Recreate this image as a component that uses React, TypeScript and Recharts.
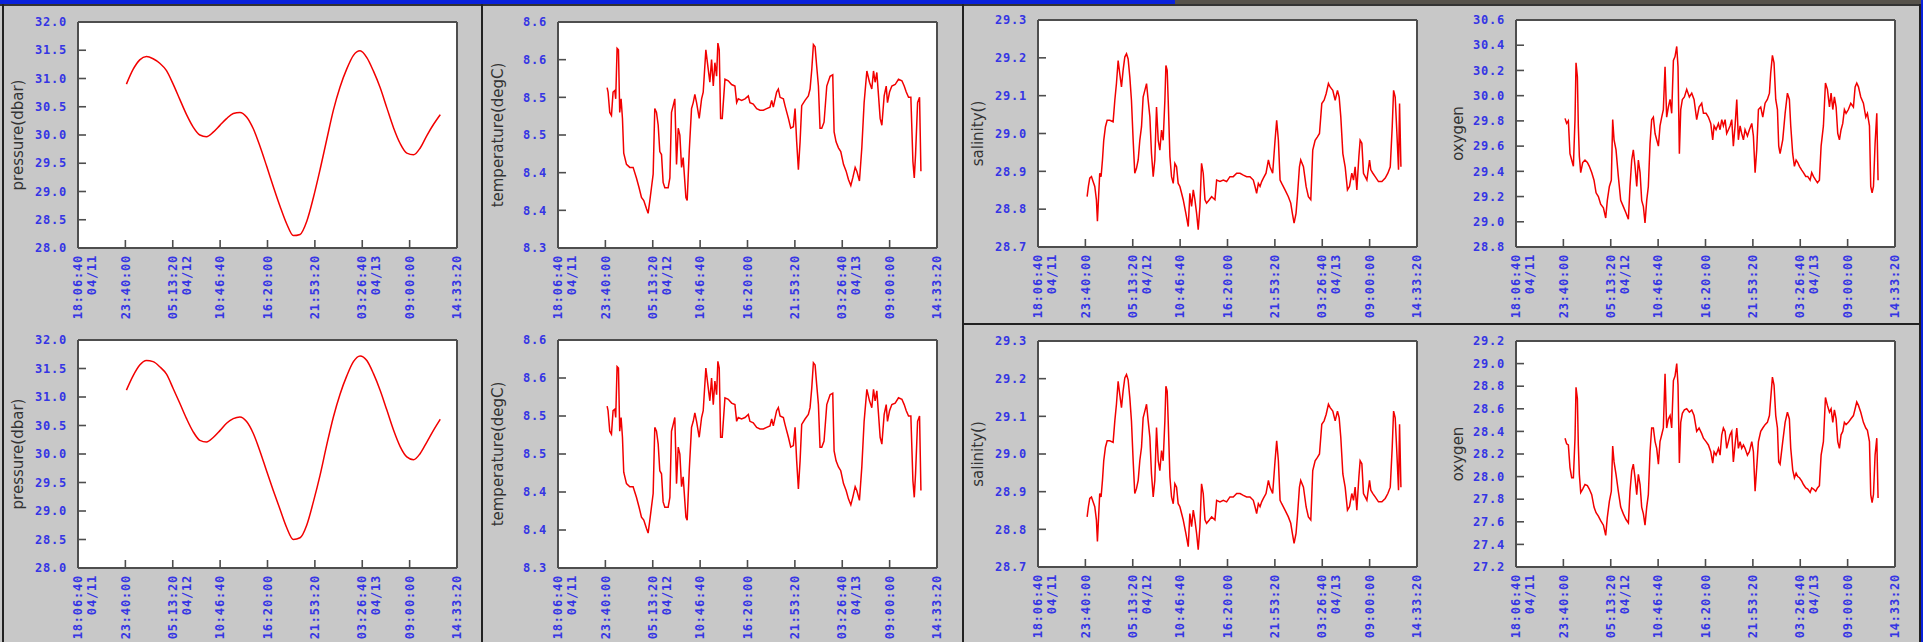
import { LineChart, Line, XAxis, YAxis, CartesianGrid, ReferenceLine } from "recharts";

// time axis: seconds since 04/11 00:00, one tick every 20000 s
const TICK_SECONDS = [65200, 85200, 105200, 125200, 145200, 165200, 185200, 205200, 225200];
const TICK_TIMES = ["18:06:40", "23:40:00", "05:13:20", "10:46:40", "16:20:00", "21:53:20", "03:26:40", "09:00:00", "14:33:20"];
const TICK_DATES = ["04/11", "", "04/12", "", "", "", "04/13", "", ""];
const TICK_HOURS = TICK_SECONDS.map((s) => s / 3600);

const PRES_TICKS = [28, 28.5, 29, 29.5, 30, 30.5, 31, 31.5, 32];
const PRES_LABELS = ["28.0", "28.5", "29.0", "29.5", "30.0", "30.5", "31.0", "31.5", "32.0"];
const TEMP_TICKS = [8.3, 8.35, 8.4, 8.45, 8.5, 8.55, 8.6];
const TEMP_LABELS = ["8.3", "8.4", "8.4", "8.5", "8.5", "8.6", "8.6"];
const SAL_TICKS = [28.7, 28.8, 28.9, 29.0, 29.1, 29.2, 29.3];
const SAL_LABELS = ["28.7", "28.8", "28.9", "29.0", "29.1", "29.2", "29.3"];
const OXY_A_TICKS = [28.8, 29.0, 29.2, 29.4, 29.6, 29.8, 30.0, 30.2, 30.4, 30.6];
const OXY_A_LABELS = ["28.8", "29.0", "29.2", "29.4", "29.6", "29.8", "30.0", "30.2", "30.4", "30.6"];
const OXY_B_TICKS = [27.2, 27.4, 27.6, 27.8, 28.0, 28.2, 28.4, 28.6, 28.8, 29.0, 29.2];
const OXY_B_LABELS = ["27.2", "27.4", "27.6", "27.8", "28.0", "28.2", "28.4", "28.6", "28.8", "29.0", "29.2"];

// pressure, hours since 04/11 00:00
const PRES_HOURS = [
  23.79, 24.57, 25.35, 26.14, 26.92, 27.7, 28.49, 29.27, 30.05, 30.84,
  31.62, 32.4, 33.18, 33.97, 34.75, 35.53, 36.32, 37.1, 37.88, 38.67,
  39.45, 40.23, 41.01, 41.8, 42.58, 43.36, 44.15, 44.93, 45.71, 46.5,
  47.28, 48.06, 48.84, 49.63, 50.41, 51.19, 51.98, 52.76, 53.54, 54.33,
  55.11, 55.89, 56.67, 57.46, 58.24, 59.02, 59.81, 60.59,
];
const PRES_A = [
  30.9, 31.16, 31.33, 31.39, 31.35, 31.27, 31.14, 30.9, 30.63, 30.36,
  30.14, 30.0, 29.97, 30.05, 30.17, 30.29, 30.38, 30.4, 30.32, 30.11,
  29.8, 29.45, 29.09, 28.74, 28.43, 28.22, 28.24, 28.47, 28.89, 29.39,
  29.92, 30.44, 30.85, 31.17, 31.41, 31.49, 31.37, 31.13, 30.84, 30.48,
  30.13, 29.85, 29.68, 29.65, 29.77, 29.99, 30.19, 30.36,
];
const PRES_B = [
  31.12, 31.37, 31.56, 31.64, 31.62, 31.53, 31.4, 31.15, 30.89, 30.62,
  30.39, 30.24, 30.21, 30.29, 30.41, 30.54, 30.62, 30.65, 30.57, 30.36,
  30.05, 29.7, 29.36, 29.03, 28.71, 28.5, 28.53, 28.75, 29.16, 29.63,
  30.16, 30.65, 31.05, 31.37, 31.62, 31.72, 31.64, 31.41, 31.12, 30.77,
  30.42, 30.13, 29.95, 29.9, 30.01, 30.21, 30.42, 30.61,
];

// temperature [hours, degC]
const TEMP: [number, number][] = [
  [23.87, 8.513], [23.98, 8.507], [24.18, 8.48], [24.38, 8.476], [24.57, 8.507], [24.77, 8.509], [24.88, 8.498],
  [25.04, 8.565], [25.2, 8.563], [25.35, 8.48], [25.51, 8.498], [25.67, 8.472], [25.82, 8.426], [26.14, 8.411],
  [26.53, 8.407], [26.92, 8.407], [27.31, 8.393], [27.62, 8.38], [27.9, 8.367], [28.17, 8.363], [28.49, 8.352],
  [28.68, 8.346], [28.88, 8.363], [29.07, 8.38], [29.27, 8.398], [29.46, 8.485], [29.66, 8.48], [29.86, 8.463],
  [30.05, 8.428], [30.25, 8.424], [30.44, 8.387], [30.64, 8.38], [31.03, 8.38], [31.23, 8.393], [31.42, 8.48],
  [31.62, 8.489], [31.81, 8.498], [32.01, 8.411], [32.21, 8.459], [32.4, 8.45], [32.6, 8.407], [32.79, 8.42],
  [33.11, 8.367], [33.26, 8.363], [33.5, 8.428], [33.77, 8.485], [33.97, 8.493], [34.16, 8.504], [34.36, 8.493],
  [34.67, 8.472], [34.95, 8.498], [35.14, 8.507], [35.45, 8.563], [35.73, 8.537], [35.92, 8.52], [36.12, 8.55],
  [36.32, 8.515], [36.51, 8.546], [36.71, 8.528], [36.86, 8.572], [37.02, 8.563], [37.18, 8.472], [37.37, 8.472],
  [37.69, 8.524], [38.08, 8.522], [38.47, 8.517], [38.86, 8.515], [39.06, 8.493], [39.25, 8.498], [39.64, 8.496],
  [40.04, 8.498], [40.43, 8.502], [40.62, 8.493], [41.01, 8.491], [41.41, 8.485], [41.8, 8.483], [42.19, 8.483],
  [42.58, 8.485], [42.97, 8.487], [43.17, 8.496], [43.36, 8.487], [43.75, 8.507], [43.95, 8.511], [44.15, 8.5],
  [44.54, 8.498], [44.73, 8.489], [45.13, 8.472], [45.4, 8.459], [45.71, 8.461], [45.91, 8.485], [46.1, 8.441],
  [46.3, 8.404], [46.5, 8.441], [46.69, 8.489], [47.08, 8.496], [47.47, 8.502], [47.67, 8.511], [47.87, 8.537],
  [48.06, 8.57], [48.26, 8.567], [48.45, 8.541], [48.65, 8.515], [48.84, 8.459], [49.04, 8.459], [49.31, 8.467],
  [49.63, 8.515], [50.02, 8.528], [50.33, 8.53], [50.49, 8.454], [50.72, 8.441], [51.0, 8.433], [51.27, 8.428],
  [51.59, 8.411], [51.9, 8.402], [52.17, 8.391], [52.45, 8.383], [52.68, 8.393], [52.96, 8.407], [53.15, 8.402],
  [53.46, 8.389], [53.74, 8.433], [54.01, 8.493], [54.33, 8.535], [54.64, 8.52], [54.91, 8.511], [55.11, 8.535],
  [55.3, 8.52], [55.5, 8.533], [55.7, 8.502], [55.89, 8.472], [56.09, 8.463], [56.36, 8.502], [56.6, 8.515],
  [56.75, 8.493], [56.99, 8.507], [57.26, 8.515], [57.65, 8.517], [58.04, 8.524], [58.44, 8.522], [58.71, 8.515],
  [58.95, 8.507], [59.22, 8.5], [59.49, 8.5], [59.73, 8.415], [59.89, 8.393], [60.04, 8.424], [60.28, 8.493],
  [60.51, 8.5], [60.67, 8.402],
];

// salinity [hours, psu]
const SAL: [number, number][] = [
  [23.87, 28.833], [24.02, 28.86], [24.18, 28.882], [24.38, 28.886], [24.57, 28.873], [24.77, 28.86], [24.96, 28.825],
  [25.08, 28.768], [25.2, 28.825], [25.35, 28.895], [25.51, 28.886], [25.67, 28.93], [25.82, 28.982], [26.02, 29.018],
  [26.22, 29.035], [26.53, 29.035], [26.92, 29.031], [27.12, 29.088], [27.31, 29.132], [27.51, 29.193], [27.7, 29.158],
  [27.9, 29.123], [28.09, 29.167], [28.29, 29.202], [28.49, 29.211], [28.68, 29.197], [28.88, 29.149], [29.07, 29.088],
  [29.27, 28.982], [29.46, 28.895], [29.66, 28.908], [29.86, 28.93], [30.05, 28.982], [30.25, 29.018], [30.44, 29.096],
  [30.64, 29.114], [30.84, 29.132], [31.03, 29.088], [31.23, 29.044], [31.42, 28.947], [31.62, 28.886], [31.81, 28.93],
  [32.01, 29.07], [32.21, 28.982], [32.4, 28.956], [32.6, 29.009], [32.79, 28.982], [32.99, 29.088], [33.11, 29.18],
  [33.26, 29.167], [33.38, 29.088], [33.58, 28.939], [33.77, 28.886], [33.97, 28.868], [34.16, 28.921], [34.36, 28.912],
  [34.55, 28.868], [34.75, 28.86], [34.95, 28.842], [35.14, 28.825], [35.45, 28.789], [35.73, 28.754], [35.92, 28.842],
  [36.12, 28.807], [36.32, 28.851], [36.51, 28.825], [36.71, 28.789], [36.9, 28.746], [37.1, 28.807], [37.29, 28.921],
  [37.49, 28.895], [37.69, 28.825], [37.88, 28.816], [38.2, 28.825], [38.47, 28.833], [38.86, 28.825], [39.06, 28.877],
  [39.45, 28.873], [39.84, 28.877], [40.23, 28.873], [40.62, 28.886], [41.01, 28.886], [41.41, 28.895], [41.8, 28.895],
  [42.19, 28.89], [42.58, 28.886], [42.97, 28.886], [43.36, 28.877], [43.56, 28.86], [43.75, 28.842], [43.95, 28.868],
  [44.15, 28.86], [44.34, 28.873], [44.54, 28.882], [44.85, 28.895], [45.13, 28.93], [45.32, 28.912], [45.63, 28.895],
  [45.91, 28.982], [46.1, 29.035], [46.3, 28.982], [46.5, 28.877], [46.69, 28.868], [47.08, 28.851], [47.47, 28.833],
  [47.75, 28.816], [47.94, 28.789], [48.14, 28.763], [48.37, 28.789], [48.53, 28.833], [48.77, 28.912], [48.92, 28.93],
  [49.24, 28.912], [49.55, 28.86], [49.82, 28.833], [50.1, 28.825], [50.33, 28.956], [50.61, 28.982], [50.88, 28.991],
  [51.12, 29.0], [51.39, 29.079], [51.66, 29.088], [51.9, 29.105], [52.17, 29.132], [52.37, 29.123], [52.68, 29.114],
  [52.96, 29.088], [53.23, 29.114], [53.43, 29.096], [53.62, 29.044], [53.86, 28.947], [54.13, 28.912], [54.4, 28.851],
  [54.64, 28.86], [54.91, 28.895], [55.11, 28.877], [55.3, 28.912], [55.5, 28.851], [55.74, 28.939], [55.89, 28.982],
  [56.09, 28.974], [56.28, 28.895], [56.48, 28.886], [56.68, 28.877], [56.99, 28.93], [57.14, 28.904], [57.38, 28.895],
  [57.65, 28.886], [58.04, 28.873], [58.44, 28.873], [58.83, 28.882], [59.14, 28.895], [59.42, 28.912], [59.65, 29.018],
  [59.81, 29.114], [60.0, 29.096], [60.2, 29.0], [60.39, 28.904], [60.51, 29.079], [60.67, 28.912],
];

// oxygen, two sensors on the same time base
const OXY_HOURS = [
  23.86, 24.05, 24.25, 24.44, 24.64, 24.84, 25.03, 25.15, 25.31, 25.42,
  25.54, 25.7, 25.93, 26.2, 26.48, 26.71, 26.99, 27.26, 27.5, 27.77,
  28.04, 28.36, 28.63, 28.82, 29.06, 29.29, 29.45, 29.61, 29.84, 30.11,
  30.39, 30.7, 31.01, 31.29, 31.48, 31.68, 31.87, 32.07, 32.27, 32.46,
  32.66, 32.85, 33.05, 33.24, 33.44, 33.63, 33.83, 34.02, 34.22, 34.42,
  34.61, 34.81, 35.0, 35.2, 35.39, 35.59, 35.78, 35.98, 36.18, 36.37,
  36.57, 36.76, 36.96, 37.11, 37.27, 37.43, 37.62, 37.86, 38.13, 38.44,
  38.72, 38.99, 39.3, 39.58, 39.89, 40.09, 40.4, 40.67, 40.95, 41.18,
  41.34, 41.57, 41.85, 42.04, 42.24, 42.43, 42.63, 42.82, 43.02, 43.21,
  43.41, 43.6, 43.8, 44.0, 44.19, 44.39, 44.58, 44.78, 44.97, 45.25,
  45.48, 45.76, 45.95, 46.15, 46.34, 46.54, 46.81, 47.05, 47.32, 47.59,
  47.83, 47.98, 48.18, 48.37, 48.57, 48.77, 48.92, 49.08, 49.39, 49.67,
  49.94, 50.17, 50.33, 50.56, 50.76, 50.96, 51.15, 51.35, 51.62, 51.82,
  52.09, 52.32, 52.6, 52.79, 52.99, 53.26, 53.46, 53.69, 53.89, 54.16,
  54.4, 54.63, 54.87, 55.06, 55.26, 55.45, 55.65, 55.84, 56.04, 56.23,
  56.43, 56.62, 56.82, 57.09, 57.37, 57.68, 57.88, 58.07, 58.27, 58.54,
  58.85, 59.13, 59.32, 59.56, 59.71, 59.87, 60.03, 60.22, 60.42, 60.57,
];
const OXY_A = [
  29.82, 29.78, 29.8, 29.54, 29.49, 29.44, 29.81, 30.26, 30.15, 29.76,
  29.52, 29.39, 29.47, 29.49, 29.47, 29.44, 29.39, 29.33, 29.23, 29.2,
  29.14, 29.11, 29.03, 29.17, 29.28, 29.33, 29.81, 29.65, 29.57, 29.36,
  29.17, 29.12, 29.07, 29.02, 29.28, 29.49, 29.57, 29.44, 29.28, 29.49,
  29.39, 29.17, 29.12, 28.99, 29.17, 29.28, 29.62, 29.81, 29.83, 29.7,
  29.65, 29.6, 29.76, 29.83, 29.89, 30.23, 29.83, 29.91, 29.97, 29.86,
  30.28, 30.31, 30.39, 30.23, 29.54, 29.89, 29.97, 29.99, 30.05, 29.99,
  30.02, 29.97, 29.81, 29.91, 29.94, 29.86, 29.86, 29.83, 29.78, 29.65,
  29.76, 29.73, 29.78, 29.73, 29.81, 29.76, 29.81, 29.7, 29.73, 29.76,
  29.81, 29.6, 29.76, 29.97, 29.65, 29.76, 29.7, 29.65, 29.73, 29.68,
  29.73, 29.78, 29.68, 29.39, 29.57, 29.89, 29.91, 29.83, 29.94, 29.97,
  30.02, 30.18, 30.32, 30.26, 29.97, 29.89, 29.6, 29.54, 29.65, 29.86,
  30.02, 29.97, 29.76, 29.54, 29.44, 29.49, 29.47, 29.44, 29.41, 29.39,
  29.36, 29.36, 29.33, 29.39, 29.36, 29.33, 29.31, 29.33, 29.6, 29.76,
  30.1, 30.05, 29.91, 30.02, 29.89, 29.99, 29.91, 29.7, 29.65, 29.73,
  29.78, 29.89, 29.86, 29.89, 29.94, 29.91, 30.07, 30.1, 30.07, 29.99,
  29.94, 29.83, 29.86, 29.76, 29.28, 29.23, 29.28, 29.62, 29.86, 29.33,
];
const OXY_B = [
  28.34, 28.29, 28.28, 28.08, 27.99, 27.99, 28.34, 28.79, 28.69, 28.28,
  28.02, 27.86, 27.89, 27.93, 27.92, 27.89, 27.84, 27.73, 27.68, 27.65,
  27.61, 27.57, 27.48, 27.64, 27.78, 27.87, 28.27, 28.13, 28.02, 27.87,
  27.73, 27.67, 27.62, 27.59, 27.87, 28.05, 28.11, 27.99, 27.84, 28.02,
  27.93, 27.73, 27.67, 27.57, 27.73, 27.84, 28.22, 28.43, 28.43, 28.31,
  28.25, 28.11, 28.31, 28.37, 28.43, 28.91, 28.43, 28.51, 28.54, 28.43,
  28.85, 28.89, 29.0, 28.81, 28.12, 28.48, 28.56, 28.59, 28.6, 28.57,
  28.59, 28.54, 28.4, 28.43, 28.38, 28.34, 28.31, 28.28, 28.22, 28.12,
  28.22, 28.19, 28.25, 28.19, 28.37, 28.43, 28.4, 28.25, 28.31, 28.37,
  28.4, 28.13, 28.28, 28.43, 28.25, 28.31, 28.25, 28.28, 28.25, 28.19,
  28.22, 28.31, 28.22, 27.87, 28.08, 28.31, 28.4, 28.43, 28.46, 28.48,
  28.54, 28.69, 28.88, 28.81, 28.54, 28.43, 28.13, 28.11, 28.31, 28.48,
  28.57, 28.51, 28.25, 28.06, 27.99, 28.03, 28.0, 27.99, 27.96, 27.93,
  27.9, 27.89, 27.86, 27.9, 27.89, 27.87, 27.9, 27.92, 28.19, 28.31,
  28.7, 28.63, 28.57, 28.6, 28.48, 28.59, 28.51, 28.31, 28.25, 28.37,
  28.4, 28.48, 28.46, 28.48, 28.51, 28.54, 28.6, 28.66, 28.63, 28.57,
  28.48, 28.43, 28.41, 28.31, 27.84, 27.77, 27.84, 28.19, 28.34, 27.81,
];

const FRAME = "#4e4e4e";
const TICK_BLUE = "#3535e4";
const LINE_RED = "#f20000";
const MONO = "'DejaVu Sans Mono', monospace";

type Pt = { h: number; v: number };
const fromPairs = (pairs: [number, number][]): Pt[] => pairs.map(([h, v]) => ({ h, v }));
const zip = (hours: number[], vals: number[]): Pt[] => hours.map((h, i) => ({ h, v: vals[i] }));

function TimeTick({ x, y, index }: any) {
  const date = TICK_DATES[index];
  return (
    <g>
      <line x1={x} y1={y} x2={x} y2={y - 8} stroke={FRAME} strokeWidth={1.6} />
      <text
        transform={`translate(${x},${y + 7}) rotate(-90)`}
        textAnchor="end"
        fill={TICK_BLUE}
        fontFamily={MONO}
        fontWeight="bold"
        fontSize={12}
        letterSpacing={0.8}
      >
        <tspan x={0} dy="0.35em">{TICK_TIMES[index]}</tspan>
        {date ? <tspan x={0} dy={14}>{date}</tspan> : null}
      </text>
    </g>
  );
}

function valueTick(ticks: number[], labels: string[]) {
  return ({ x, y, payload }: any) => {
    let i = 0;
    ticks.forEach((t, k) => {
      if (Math.abs(t - payload.value) < Math.abs(ticks[i] - payload.value)) i = k;
    });
    return (
      <g>
        <line x1={x} y1={y} x2={x + 8} y2={y} stroke={FRAME} strokeWidth={1.6} />
        <text
          x={x - 11}
          y={y}
          dy="0.35em"
          textAnchor="end"
          fill={TICK_BLUE}
          fontFamily={MONO}
          fontWeight="bold"
          fontSize={12}
          letterSpacing={0.8}
        >
          {labels[i]}
        </text>
      </g>
    );
  };
}

interface PanelProps {
  data: Pt[];
  left: number;
  top: number;
  plot: { x: number; y: number; w: number; h: number };
  ticks: number[];
  labels: string[];
  title: string;
  smooth?: boolean;
}

const BOX_W = 480;
const BOX_H = 322;

function Panel({ data, left, top, plot, ticks, labels, title, smooth }: PanelProps) {
  const mTop = plot.y - top;
  const yW = plot.x - left;
  const mRight = left + BOX_W - (plot.x + plot.w);
  const xH = BOX_H - mTop - plot.h;
  const xDomain = [TICK_HOURS[0], TICK_HOURS[TICK_HOURS.length - 1]];
  const yDomain = [ticks[0], ticks[ticks.length - 1]];
  const frameLine = { stroke: FRAME, strokeWidth: 2 };
  return (
    <div style={{ position: "absolute", left, top, width: BOX_W, height: BOX_H }}>
      <LineChart width={BOX_W} height={BOX_H} data={data} margin={{ top: mTop, right: mRight, bottom: 0, left: 0 }}>
        <CartesianGrid horizontal={false} vertical={false} fill="#ffffff" fillOpacity={1} />
        <XAxis
          dataKey="h"
          type="number"
          domain={xDomain}
          ticks={TICK_HOURS}
          interval={0}
          height={xH}
          tickSize={0}
          tickMargin={0}
          tickLine={false}
          axisLine={frameLine}
          tick={(p: any) => <TimeTick {...p} />}
          allowDataOverflow
        />
        <YAxis
          type="number"
          domain={yDomain}
          ticks={ticks}
          interval={0}
          width={yW}
          tickSize={0}
          tickMargin={0}
          tickLine={false}
          axisLine={frameLine}
          tick={valueTick(ticks, labels)}
          allowDataOverflow
          label={{
            value: title,
            angle: -90,
            position: "insideLeft",
            offset: 18,
            fill: "#333333",
            fontSize: 15,
            fontFamily: "'DejaVu Sans', sans-serif",
            style: { textAnchor: "middle" },
          }}
        />
        {/* close the box on the top and right */}
        <ReferenceLine y={yDomain[1]} stroke={FRAME} strokeWidth={2} />
        <ReferenceLine x={xDomain[1]} stroke={FRAME} strokeWidth={2} />
        <Line
          dataKey="v"
          type={smooth ? "monotone" : "linear"}
          stroke={LINE_RED}
          strokeWidth={1.5}
          dot={false}
          isAnimationActive={false}
        />
      </LineChart>
    </div>
  );
}

export default function App() {
  const temp = fromPairs(TEMP);
  const sal = fromPairs(SAL);
  return (
    <div
      style={{
        position: "absolute",
        left: 0,
        top: 0,
        width: 1923,
        height: 642,
        background: "#c8c8c8",
        overflow: "hidden",
      }}
    >
      {/* window chrome */}
      <div style={{ position: "absolute", left: 0, top: 0, width: 1175, height: 4, background: "#0a22dc" }} />
      <div style={{ position: "absolute", left: 1175, top: 0, width: 748, height: 4, background: "#56524b" }} />
      <div style={{ position: "absolute", left: 0, top: 4, width: 1923, height: 1.5, background: "#333" }} />
      <div style={{ position: "absolute", left: 2, top: 4, width: 2, height: 638, background: "#222" }} />
      <div style={{ position: "absolute", left: 481, top: 4, width: 2, height: 638, background: "#222" }} />
      <div style={{ position: "absolute", left: 962, top: 4, width: 2, height: 638, background: "#222" }} />
      <div style={{ position: "absolute", left: 962, top: 323, width: 958, height: 2, background: "#222" }} />
      <div style={{ position: "absolute", left: 1919, top: 4, width: 2, height: 638, background: "#222" }} />
      <div style={{ position: "absolute", left: 1921, top: 0, width: 2, height: 642, background: "#0a22dc" }} />

      <Panel data={zip(PRES_HOURS, PRES_A)} left={0} top={0} plot={{ x: 78, y: 22, w: 379, h: 226 }}
        ticks={PRES_TICKS} labels={PRES_LABELS} title="pressure(dbar)" smooth />
      <Panel data={temp} left={480} top={0} plot={{ x: 558, y: 22, w: 379, h: 226 }}
        ticks={TEMP_TICKS} labels={TEMP_LABELS} title="temperature(degC)" />
      <Panel data={sal} left={960} top={0} plot={{ x: 1038, y: 20, w: 379, h: 227 }}
        ticks={SAL_TICKS} labels={SAL_LABELS} title="salinity()" />
      <Panel data={zip(OXY_HOURS, OXY_A)} left={1440} top={0} plot={{ x: 1516, y: 20, w: 379, h: 227 }}
        ticks={OXY_A_TICKS} labels={OXY_A_LABELS} title="oxygen" />

      <Panel data={zip(PRES_HOURS, PRES_B)} left={0} top={320} plot={{ x: 78, y: 340, w: 379, h: 228 }}
        ticks={PRES_TICKS} labels={PRES_LABELS} title="pressure(dbar)" smooth />
      <Panel data={temp} left={480} top={320} plot={{ x: 558, y: 340, w: 379, h: 228 }}
        ticks={TEMP_TICKS} labels={TEMP_LABELS} title="temperature(degC)" />
      <Panel data={sal} left={960} top={320} plot={{ x: 1038, y: 341, w: 379, h: 226 }}
        ticks={SAL_TICKS} labels={SAL_LABELS} title="salinity()" />
      <Panel data={zip(OXY_HOURS, OXY_B)} left={1440} top={320} plot={{ x: 1516, y: 341, w: 379, h: 226 }}
        ticks={OXY_B_TICKS} labels={OXY_B_LABELS} title="oxygen" />
    </div>
  );
}
